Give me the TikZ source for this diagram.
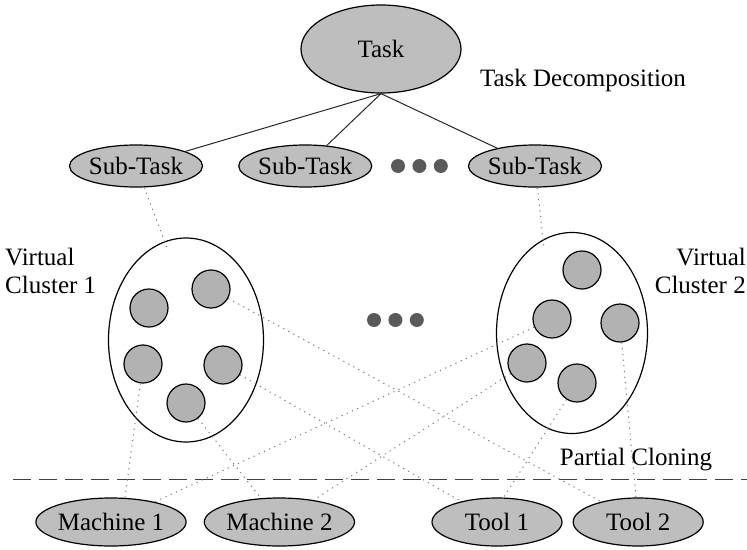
\documentclass[tikz,border=0pt]{standalone}
\usepackage{fontspec}
\setmainfont{Liberation Serif}
\usepackage{tikz}
\usetikzlibrary{shapes.geometric, positioning}
\definecolor{shade}{HTML}{BEBEBE}
\definecolor{vmshade}{HTML}{B2B2B2}
\definecolor{dotgray}{HTML}{5A5A5A}
\definecolor{linkgray}{HTML}{7A7A7A}
\newcommand{\lblfont}{\fontsize{25}{28}\selectfont}
\tikzset{
  task/.style={ellipse, draw=black, line width=1.2pt, fill=shade, minimum width=160pt, minimum height=88pt, inner sep=0pt, font=\lblfont},
  sub/.style={ellipse, draw=black, line width=1.2pt, fill=shade, minimum width=116pt, minimum height=42pt, inner sep=0pt, font=\lblfont},
  res/.style={ellipse, draw=black, line width=1.2pt, fill=shade, minimum width=130pt, minimum height=48pt, inner sep=0pt, font=\lblfont},
  cluster/.style={ellipse, draw=black, line width=1.2pt, fill=white, minimum width=155pt, minimum height=204pt, inner sep=0pt},
  vm/.style={circle, draw=black, line width=1.2pt, fill=vmshade, minimum size=38pt, inner sep=0pt},
  dot/.style={circle, fill=dotgray, minimum size=14pt, inner sep=0pt},
  txt/.style={font=\lblfont, inner sep=0pt},
  tree/.style={line width=1pt, black!85},
  link/.style={line width=1pt, linkgray, dash pattern=on 1.2pt off 4.5pt},
  cut/.style={line width=1pt, black!75, dash pattern=on 18pt off 8pt},
}
\begin{document}
\begin{tikzpicture}[x=1pt, y=-1pt]
\useasboundingbox (0,0) rectangle (747,549);

% task and its parts
\node[task] (task) at (381,49) {Task};
\node[txt] (dec) at (583,80) {Task Decomposition};
\node[sub] (st1) at (136,166) {Sub-Task};
\node[sub, right=35pt of st1] (st2) {Sub-Task};
\node[sub] (st3) at (535,166) {Sub-Task};
\node[dot] (d1) at (398,166) {};
\node[dot, right=7pt of d1] (d2) {};
\node[dot, right=7pt of d2] (d3) {};
\draw[tree] (task.south) -- (st1); \draw[tree] (task.south) -- (st2); \draw[tree] (task.south) -- (st3);

% virtual clusters
\node[cluster] (vc1) at (186,340) {};
\node[cluster, minimum width=151pt, minimum height=201pt] (vc2) at (572,333) {};
\node[txt, align=left, anchor=west] (lab1) at (5,271) {Virtual\\Cluster 1};
\node[txt, align=right, anchor=east] (lab2) at (746,271) {Virtual\\Cluster 2};
\foreach \n/\p in {a1/{149,308}, a2/{211,289}, a3/{143,364}, a4/{223,365}, a5/{186,403},
                   b1/{582,270}, b2/{552,319}, b3/{620,323}, b4/{527,363}, b5/{577,383}}
  \node[vm] (\n) at (\p) {};
\node[dot] (e1) at (374,320) {};
\node[dot, right=7pt of e1] (e2) {};
\node[dot, right=7pt of e2] (e3) {};

% physical resources
\coordinate (cutL) at (13,479);
\coordinate (cutR) at (747,479);
\draw[cut] (cutL) -- (cutR);
\node[txt] (pc) at (636,460) {Partial Cloning};
\node[res] (m1) at (111,522) {Machine 1};
\node[res, right=17pt of m1] (m2) {Machine 2};
\node[res] (t1) at (497,522) {Tool 1};
\node[res, right=10pt of t1] (t2) {Tool 2};

% mapping
\coordinate (in1) at (168,250);
\coordinate (in2) at (544,248);
\draw[link] (st1) -- (in1); \draw[link] (st3) -- (in2);
\draw[link] (a2) -- (t2); \draw[link] (a4) -- (t1); \draw[link] (a3) -- (m1.60); \draw[link] (a5) -- (m2);
\draw[link] (b2) -- (m1); \draw[link] (b4) -- (m2); \draw[link] (b5) -- (t1.75); \draw[link] (b3) -- (t2);
\end{tikzpicture}
\end{document}
